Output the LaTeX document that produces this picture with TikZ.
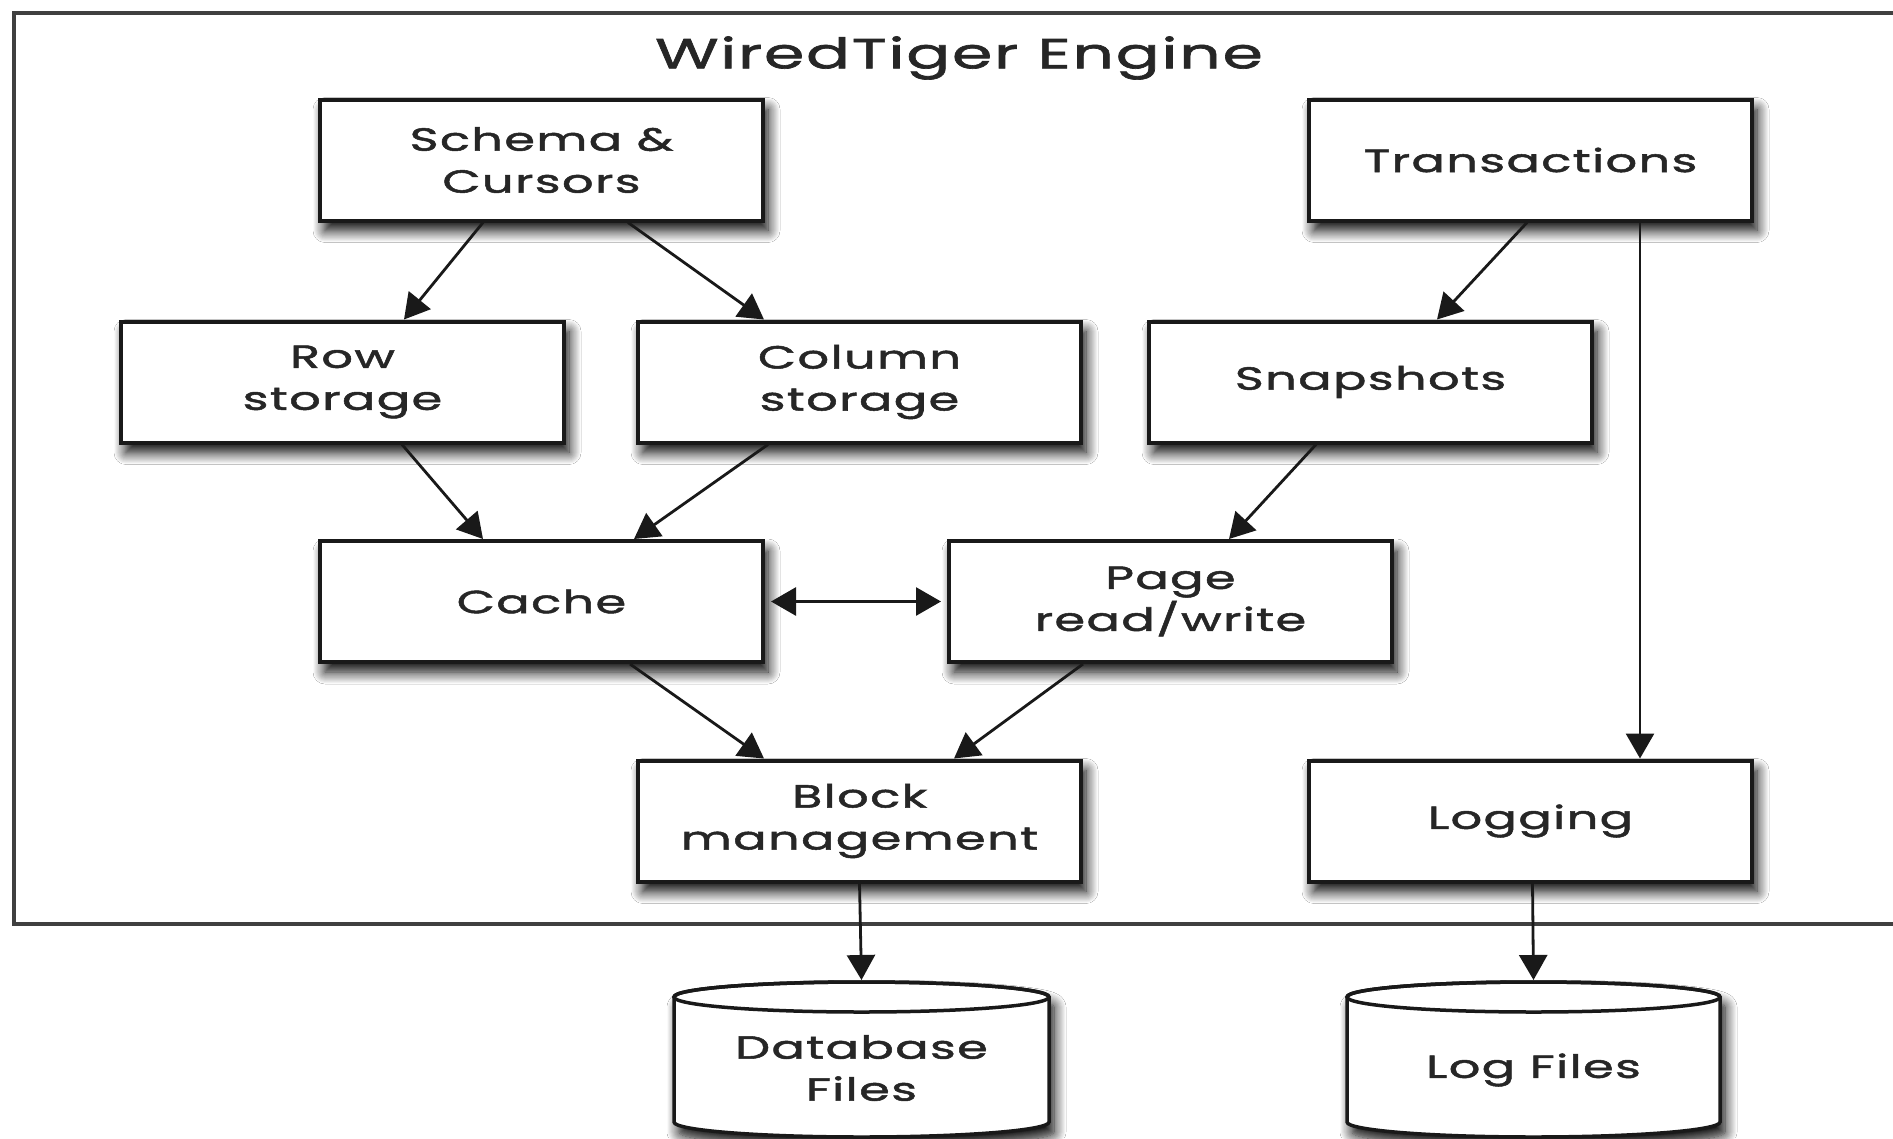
\documentclass[tikz,border=0pt]{standalone}
\usepackage{fontspec}
\setmainfont{Poppins}[FakeStretch=1.55, LetterSpace=4, FakeBold=1.6]
\usetikzlibrary{arrows.meta,shadows.blur}
\tikzset{
  boxnode/.style={draw=black!90, line width=4pt, fill=white, minimum width=443pt, minimum height=121pt,
    align=center, inner sep=0pt, font=\fontsize{32}{42}\selectfont, text=black!85,
    blur shadow={shadow xshift=5pt, shadow yshift=-10pt, shadow blur radius=12pt, shadow opacity=100, shadow blur steps=12}},
  cylnode/.style={align=center, inner sep=0pt, font=\fontsize{32}{42}\selectfont, text=black!85},
  cylbody/.style={draw=black!90, line width=3.5pt, fill=white,
    blur shadow={shadow xshift=5pt, shadow yshift=-10pt, shadow blur radius=12pt, shadow opacity=100, shadow blur steps=12}},
  conn/.style={line width=2.8pt, draw=black!90, -{Triangle[length=25pt,width=28pt]}},
}
\begin{document}
\begin{tikzpicture}[x=1pt,y=-1pt]
\useasboundingbox[fill=white] (0,0) rectangle (1893,1138);
% outer frame
\draw[line width=3.5pt, black!75] (14,13) rectangle (1920,924);
\node[font=\fontsize{42}{50}\selectfont, text=black!85] (title) at (959,58) {WiredTiger Engine};
% boxes
\node[boxnode] (schema) at (541.5,160) {Schema \&\\Cursors};
\node[boxnode] (trans) at (1530.5,160) {Transactions};
\node[boxnode] (row) at (342.5,382) {Row\\storage};
\node[boxnode] (col) at (859.5,382) {Column\\storage};
\node[boxnode] (snap) at (1370.5,382) {Snapshots};
\node[boxnode] (cache) at (541.5,601.5) {Cache};
\node[boxnode] (page) at (1170.5,601.5) {Page\\read/write};
\node[boxnode] (block) at (859.5,821) {Block\\management};
\node[boxnode] (logging) at (1530.5,821) {Logging};
% cylinders
\path[cylbody] (674,997) -- (674,1122) arc[start angle=180, end angle=0, x radius=187.5, y radius=15]
  -- (1049,997) arc[start angle=0, end angle=-180, x radius=187.5, y radius=15] -- cycle;
\draw[line width=3.5pt, black!90] (861.5,997) ellipse[x radius=187.5, y radius=15];
\path[cylbody] (1347,997) -- (1347,1122) arc[start angle=180, end angle=0, x radius=186.5, y radius=15]
  -- (1720,997) arc[start angle=0, end angle=-180, x radius=186.5, y radius=15] -- cycle;
\draw[line width=3.5pt, black!90] (1533.5,997) ellipse[x radius=186.5, y radius=15];
\node[cylnode] (dbfiles) at (861.5,1068) {Database\\Files};
\node[cylnode] (logfiles) at (1533.5,1070) {Log Files};
\coordinate (dbtop) at (861.5,980);
\coordinate (logtop) at (1533.5,980);
% connectors
\draw[conn] ([xshift=-58.5pt]schema.south) -- ([xshift=61.5pt]row.north);
\draw[conn] ([xshift=86.5pt]schema.south) -- ([xshift=-95.5pt]col.north);
\draw[conn] ([xshift=-3.5pt]trans.south) -- ([xshift=66.5pt]snap.north);
\draw[conn] ([xshift=109.5pt]trans.south) -- ([xshift=109.5pt]logging.north);
\draw[conn] ([xshift=59.5pt]row.south) -- ([xshift=-58.5pt]cache.north);
\draw[conn] ([xshift=-91.5pt]col.south) -- ([xshift=92.5pt]cache.north);
\draw[conn] ([xshift=-54.5pt]snap.south) -- ([xshift=58.5pt]page.north);
\draw[conn, {Triangle[length=25pt,width=28pt]}-{Triangle[length=25pt,width=28pt]}, shorten <=6pt, shorten >=6pt] (cache.east) -- (page.west);
\draw[conn] ([xshift=88.5pt]cache.south) -- ([xshift=-95.5pt]block.north);
\draw[conn] ([xshift=-87.5pt]page.south) -- ([xshift=94.5pt]block.north);
\draw[conn] (block.south) -- (dbtop);
\draw[conn] ([xshift=2pt]logging.south) -- (logtop);
\end{tikzpicture}
\end{document}
